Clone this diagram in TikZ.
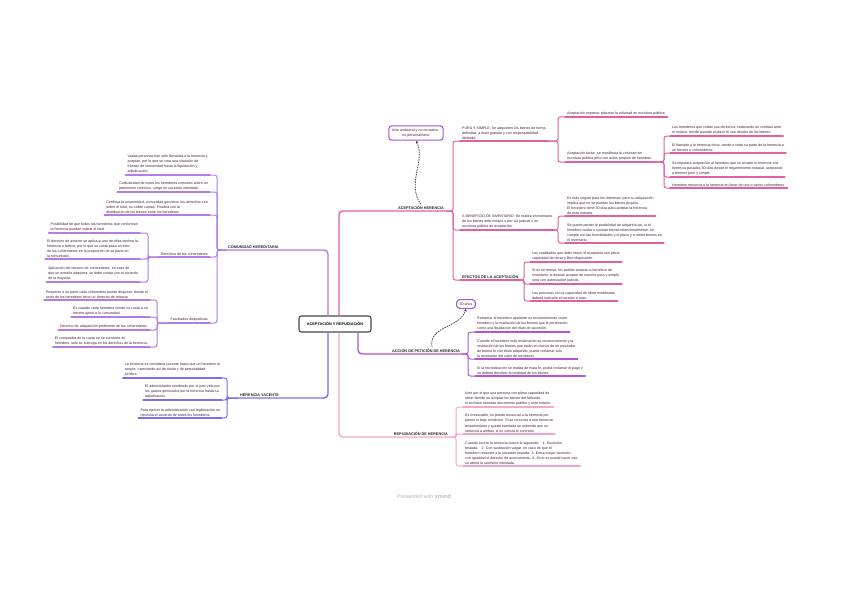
\documentclass[tikz,border=0pt]{standalone}
\usepackage{fontspec}
\setmainfont{Liberation Sans}
\usepackage{tikz}
\usetikzlibrary{arrows.meta,calc}
\definecolor{colCom}{HTML}{B57BEA}
\definecolor{colYac}{HTML}{7E6BF2}
\definecolor{colAce}{HTML}{E2609F}
\definecolor{colAcc}{HTML}{B452DA}
\definecolor{colRep}{HTML}{F5A6CE}
\definecolor{txtD}{HTML}{47183C}
\definecolor{rootLine}{HTML}{44444F}
\definecolor{callLine}{HTML}{A552E2}
\definecolor{relLine}{HTML}{3D4A58}

\begin{document}
\begin{tikzpicture}[x=1pt,y=-1pt,
  leaf/.style={font=\fontsize{3.6}{5.1}\selectfont, text=txtD, align=left, inner xsep=2pt, inner ysep=1.2pt},
  leafR/.style={leaf, anchor=south west},
  leafL/.style={leaf, anchor=south east},
  ttl/.style={font=\fontsize{3.8}{4.6}\selectfont\bfseries, text=black!85, inner xsep=2pt, inner ysep=1.5pt},
  rootbox/.style={draw=rootLine, line width=1.1pt, rounded corners=2.5pt, fill=white, minimum width=72pt, minimum height=16pt, font=\fontsize{3.8}{4.6}\selectfont\bfseries},
  callbox/.style={draw=callLine, line width=1.1pt, rounded corners=3pt, fill=white, align=center, font=\fontsize{3.6}{5}\selectfont, text=txtD, inner sep=3pt},
  trunk/.style={line width=1.4pt, rounded corners=4pt},
  twig/.style={line width=1pt, rounded corners=2.5pt},
  uline/.style={line width=1.1pt, line cap=round},
  rel/.style={draw=relLine, line width=0.8pt, dash pattern=on 1.5pt off 1pt, -{Stealth[length=3pt,width=3pt]}}
]
\fill[white] (0,0) rectangle (848,599);
\useasboundingbox (0,0) rectangle (848,599);

% centre and main branches
\node[rootbox] (root) at (335,324) {ACEPTACIÓN Y REPUDIACIÓN};
\node[ttl, anchor=south west] (com) at (226,250) {COMUNIDAD HEREDITARIA};
\node[ttl, anchor=south west] (yac) at (238,398) {HERENCIA YACENTE};
\node[ttl, anchor=south east] (ace) at (446,211) {ACEPTACIÓN HERENCIA};
\node[ttl, anchor=south east] (acc) at (462,354) {ACCIÓN DE PETICIÓN DE HERENCIA};
\node[ttl, anchor=south east] (rep) at (450,437) {REPUDIACIÓN DE HERENCIA};

\draw[trunk, colCom] ([xshift=-7pt]root.north) |- (com.south west);
\draw[trunk, colYac] ([xshift=-7pt]root.south) |- (yac.south west);
\draw[trunk, colAce] ([xshift=4pt]root.north) |- (ace.south east);
\draw[trunk, colAcc] ([xshift=23pt]root.south) |- (acc.south east);
\draw[trunk, colRep] ([xshift=4pt]root.south) |- (rep.south east);

% callouts
\node[callbox] (callA) at (416,133) {Acto unilateral y no receptivo ,\\ no personalísimo};
\node[callbox] (call30) at (466,304) {30 años};
\draw[rel] (ace.north) .. controls (406,184) and (426,160) .. (callA.south);
\draw[rel] ([xshift=6pt]acc.north) .. controls (428,326) and (460,328) .. (call30.south);

% comunidad hereditaria
\coordinate (comBr) at (217,250);
\node[leafL] (comA) at (210,175) {Varias personas han sido llamadas a la herencia y\\aceptan, por lo que se crea una situación de\\tránsito de comunidad hasta la liquidación y\\adjudicación.};
\node[leafL] (comB) at (210,192) {Cotitularidad de todos los herederos comunes sobre un\\patrimonio colectivo, surge en sucesión intestada.};
\node[leafL] (comC) at (210,215) {Conlleva la unanimidad, comunidad germana, los derechos son\\sobre el total, no sobre cuotas. Finaliza con la\\distribución de los bienes entre los herederos.};
\node[leafL] (der) at (210,257) {Derechos de los coherederos};
\node[leafL] (fac) at (210,323) {Facultades dispositivas};
\foreach \n in {comA,comB,comC,der,fac}
  \draw[twig, colCom] (com.south west) -- (comBr) |- (\n.south east);

\coordinate (derBr) at (148,257);
\node[leafL] (derA) at (140,233) {Posibilidad de que todos los herederos que conforman\\la herencia puedan cobrar el total.};
\node[leafL] (derB) at (140,259) {El derecho de acrecer se aplica si uno de ellos declina la\\herencia o fallece, por lo que su cuota pasa al resto\\de los coherederos en la proporción de su parte en\\la comunidad.};
\node[leafL] (derC) at (140,282) {Aplicación del retracto de coherederos, en caso de\\que un extraño adquiera, se debe contar con el acuerdo\\de la mayoría.};
\foreach \n in {derA,derB,derC}
  \draw[twig, colCom] (der.south west) -- (derBr) |- (\n.south east);

\coordinate (facBr) at (157,323);
\node[leafL] (facA) at (150,300) {Respecto a su parte cada coheredero puede disponer, donde el\\resto de los herederos tiene un derecho de retracto.};
\node[leafL] (facB) at (150,317) {Es cuando cada heredero vende su cuota a un\\tercero ajeno a la comunidad.};
\node[leafL] (facC) at (150,330) {Derecho de adquisición preferente de los coherederos.};
\node[leafL] (facD) at (150,347) {El comprador de la cuota no se convierte en\\heredero, solo se subroga en los derechos de la herencia.};
\foreach \n in {facA,facB,facC,facD}
  \draw[twig, colCom] (fac.south west) -- (facBr) |- (\n.south east);

\foreach \n in {comA,comB,comC,der,fac,derA,derB,derC,facA,facB,facC,facD}
  \draw[uline, colCom] (\n.south west) -- (\n.south east);

% herencia yacente
\coordinate (yacBr) at (227,398);
\node[leafL] (yacA) at (222,378) {La herencia se considera yacente hasta que un heredero la\\acepta, careciendo así de titular y de personalidad\\jurídica.};
\node[leafL] (yacB) at (222,400) {El administrador nombrado por el juez vela por\\los gastos generados por la herencia hasta su\\adjudicación.};
\node[leafL] (yacC) at (222,418) {Para ejercer la administración con legitimación se\\necesita el acuerdo de todos los herederos.};
\foreach \n in {yacA,yacB,yacC} {
  \draw[twig, colYac] (yac.south west) -- (yacBr) |- (\n.south east);
  \draw[uline, colYac] (\n.south west) -- (\n.south east);
}

% aceptacion
\coordinate (aceBr) at (453,211);
\node[leafR] (pura) at (460,141) {PURA Y SIMPLE: Se adquieren los bienes de forma\\definitiva, a título gratuito y con responsabilidad\\ilimitada.};
\node[leafR] (benef) at (460,230) {A BENEFICIO DE INVENTARIO: Se realiza el inventario\\de los bienes ante notario o por vía judicial o en\\escritura pública de aceptación.};
\node[ttl, anchor=south west] (efec) at (460,280) {EFECTOS DE LA ACEPTACIÓN};
\foreach \n in {pura,benef,efec}
  \draw[twig, colAce] (ace.south east) -- (aceBr) |- (\n.south west);

\coordinate (puraBr) at (558,141);
\node[leafR] (expr) at (565,117) {Aceptación expresa: plasmar la voluntad en escritura pública.};
\node[leafR] (tac) at (565,162) {Aceptación tácita: se manifiesta la voluntad sin\\escritura pública pero con actos propios de heredero.};
\foreach \n in {expr,tac}
  \draw[twig, colAce] (pura.south east) -- (puraBr) |- (\n.south west);

\coordinate (tacBr) at (664,162);
\node[leafR] (tacA) at (670,136) {Los herederos que cedan sus derechos, realizando un contrato ante\\el notario, donde pasado el plazo él sea deudor de los bienes.};
\node[leafR] (tacB) at (670,153) {El llamado a la herencia dona, vende o cede su parte de la herencia a\\un tercero o coherederos.};
\node[leafR] (tacC) at (670,177) {Se imputará aceptación al heredero que no acepte ni renuncie a la\\herencia pasados 30 días desde el requerimiento notarial, aceptando\\a término puro y simple.};
\node[leafR] (tacD) at (670,188) {Heredero renuncia a la herencia en favor de uno o varios coherederos.};
\foreach \n in {tacA,tacB,tacC,tacD}
  \draw[twig, colAce] (tac.south east) -- (tacBr) |- (\n.south west);

\coordinate (benBr) at (558,230);
\node[leafR] (benA) at (565,216) {Es más seguro para los intereses, pero su adquisición\\implica que no se pierdan los bienes propios.\\El heredero tiene 30 días para aceptar la herencia\\de esta manera.};
\node[leafR] (benB) at (565,243) {Se puede perder la posibilidad de adquirirla así, si el\\heredero oculta o sustrae bienes intencionalmente, no\\cumple con las formalidades y el plazo y si omite bienes en\\el inventario.};
\foreach \n in {benA,benB}
  \draw[twig, colAce] (benef.south east) -- (benBr) |- (\n.south west);

\coordinate (efBr) at (524,280);
\node[leafR] (efA) at (530,262) {Las cualidades que debe reunir el aceptante son plena\\capacidad de obrar y libre disposición.};
\node[leafR] (efB) at (530,284) {Si es un menor, los padres aceptan a beneficio de\\inventario; si desean aceptar de manera pura y simple,\\será con autorización judicial.};
\node[leafR] (efC) at (530,301) {Las personas con la capacidad de obrar modificada,\\deberá indicarlo el curador o tutor.};
\foreach \n in {efA,efB,efC}
  \draw[twig, colAce] (efec.south east) -- (efBr) |- (\n.south west);

\foreach \n in {pura,benef,efec,expr,tac,tacA,tacB,tacC,tacD,benA,benB,efA,efB,efC}
  \draw[uline, colAce] (\n.south west) -- (\n.south east);

% accion de peticion
\coordinate (accBr) at (468,354);
\node[leafR] (accA) at (475,332) {Reclamar al heredero aparente su reconocimiento como\\heredero y la restitución de los bienes que le pertenecen\\como una liquidación del título de sucesión.};
\node[leafR] (accB) at (475,359) {Cuando el heredero está reclamando su reconocimiento y la\\restitución de los bienes que están en manos de un poseedor\\de buena fe con título adquirido, puede reclamar solo\\la restitución del valor de los bienes.};
\node[leafR] (accC) at (475,376) {Si la reivindicación se realiza de mala fe, podrá reclamar el pago y\\se deberá devolver la totalidad de los bienes.};
\foreach \n in {accA,accB,accC} {
  \draw[twig, colAcc] (acc.south east) -- (accBr) |- (\n.south west);
  \draw[uline, colAcc] (\n.south west) -- (\n.south east);
}

% repudiacion
\coordinate (repBr) at (456,437);
\node[leafR] (repA) at (463,407) {Acto por el que una persona con plena capacidad de\\obrar decide no aceptar los bienes del fallecido,\\el rechazo necesita documento público y ante notario.};
\node[leafR] (repB) at (463,434) {Es irrevocable, no puede renunciar a la herencia por\\partes ni bajo condición. Si se renuncia a una herencia\\testamentaria y queda intestada se entiende que se\\renuncia a ambas, si no consta lo contrario.};
\node[leafR] (repC) at (463,466) {Cuando ocurre la renuncia ocurre lo siguiente:\quad 1. Sucesión\\testada.\quad 2. Con sustitución vulgar, en caso de que el\\heredero renuncie a la sucesión testada. 3. Entra mayor sucesión,\\con igualdad el derecho de acrecimiento. 4. Si no se puede hacer eso,\\se abrirá la sucesión intestada.};
\foreach \n in {repA,repB,repC} {
  \draw[twig, colRep] (rep.south east) -- (repBr) |- (\n.south west);
  \draw[uline, colRep] (\n.south west) -- (\n.south east);
}

\node[font=\fontsize{5.5}{6}\selectfont, text=black!28] (mark) at (424,497) {Presented with \textbf{xmind}};
\end{tikzpicture}
\end{document}
